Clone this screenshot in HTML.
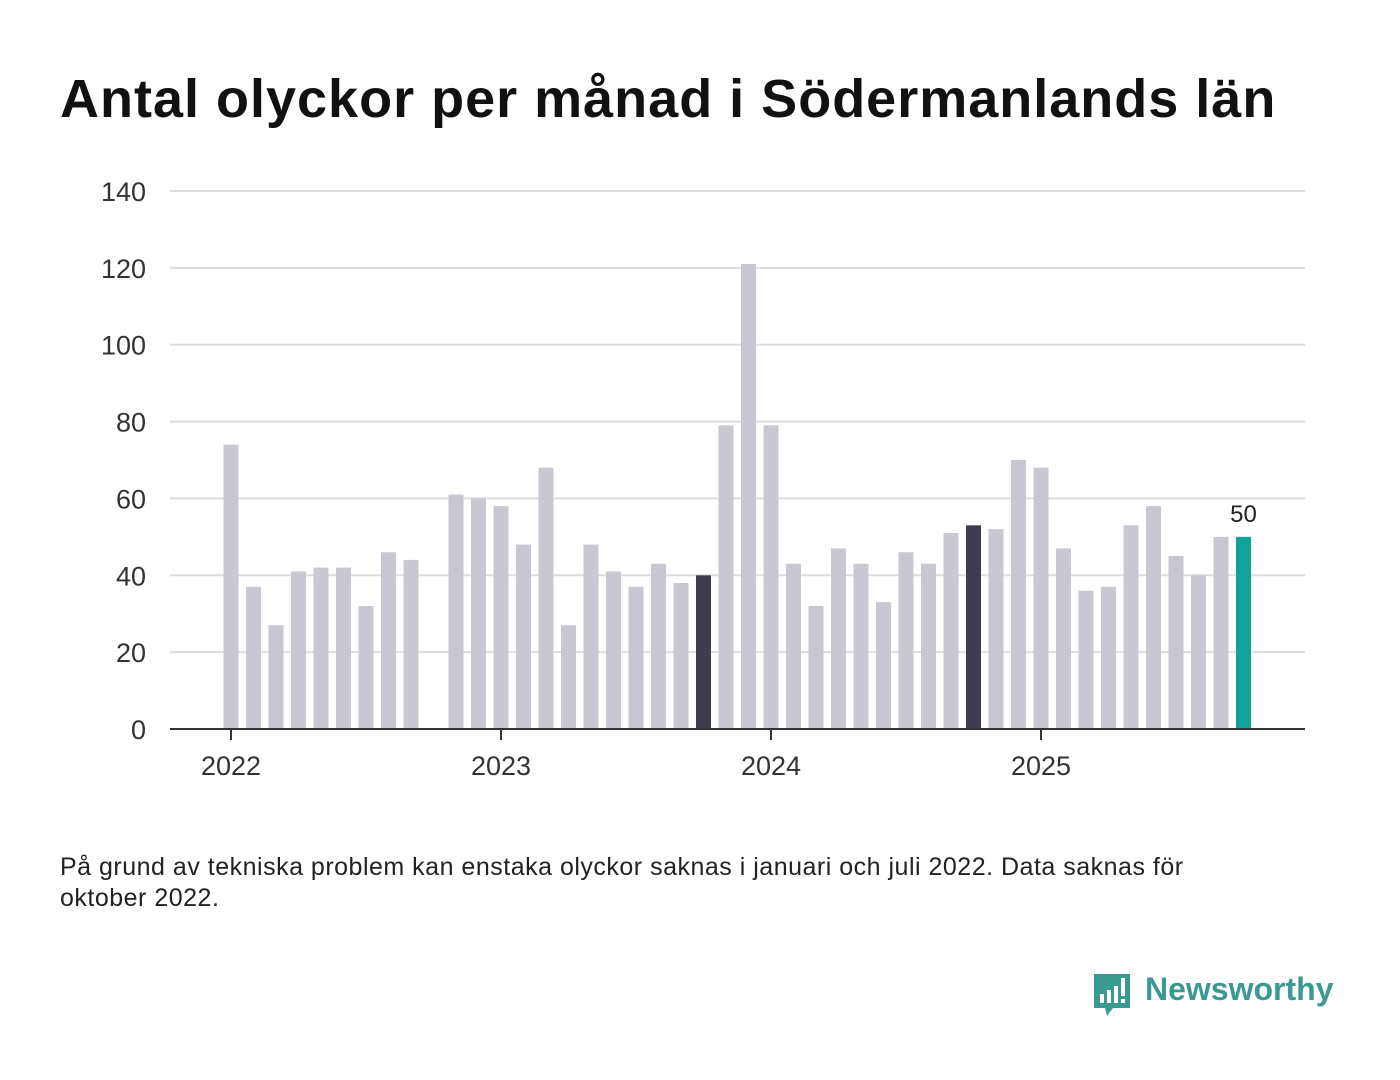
<!DOCTYPE html>
<html><head><meta charset="utf-8"><style>
body{margin:0;width:1400px;height:1080px;background:#fff;font-family:"Liberation Sans","DejaVu Sans",sans-serif;overflow:hidden}
h1{position:absolute;left:60px;top:68px;margin:0;font-size:54px;font-weight:bold;color:#111;letter-spacing:1.0px;white-space:nowrap}
.note{position:absolute;left:60px;top:852px;width:1200px;font-size:25px;line-height:31px;color:#222;letter-spacing:0.5px}
svg{position:absolute;left:0;top:0}
.logo{position:absolute;left:1092px;top:972px}
.logotext{position:absolute;left:1145px;top:971px;font-size:32px;font-weight:bold;color:#3a9a92}
</style></head><body>
<h1>Antal olyckor per månad i Södermanlands län</h1>
<svg id="chart" width="1400" height="820"></svg>
<div class="note">På grund av tekniska problem kan enstaka olyckor saknas i januari och juli 2022. Data saknas för oktober 2022.</div>
<svg class="logo" width="42" height="50">
<path d="M2 2h36v34H21l-6 8-2-8H2z" fill="#3a9a92"/>
<rect x="8" y="22" width="4" height="9" fill="#fff"/><rect x="15" y="18" width="4" height="13" fill="#fff"/><rect x="22" y="14" width="4" height="17" fill="#fff"/><rect x="29" y="6" width="4" height="18" fill="#fff"/><rect x="29" y="27" width="4" height="4" fill="#fff"/>
</svg>
<div class="logotext">Newsworthy</div>
<script>
const months = ["2022-01","2022-02","2022-03","2022-04","2022-05","2022-06","2022-07","2022-08","2022-09","2022-10","2022-11","2022-12","2023-01","2023-02","2023-03","2023-04","2023-05","2023-06","2023-07","2023-08","2023-09","2023-10","2023-11","2023-12","2024-01","2024-02","2024-03","2024-04","2024-05","2024-06","2024-07","2024-08","2024-09","2024-10","2024-11","2024-12","2025-01","2025-02","2025-03","2025-04","2025-05","2025-06","2025-07","2025-08","2025-09","2025-10"];
const values = [74,37,27,41,42,42,32,46,44,null,61,60,58,48,68,27,48,41,37,43,38,40,79,121,79,43,32,47,43,33,46,43,51,53,52,70,68,47,36,37,53,58,45,40,50,50];
const highlighted = ["2023-10","2024-10"];
const current = "2025-10";
const yTicks = [0,20,40,60,80,100,120,140];
const xTickLabels = ["2022","2023","2024","2025"];
const svg = document.getElementById('chart');
const NS = "http://www.w3.org/2000/svg";
const y = v => 729 - v * (538/140);
const x = i => 231 + i * 22.5;
function mk(tag, attrs){const e=document.createElementNS(NS,tag);for(const k in attrs)e.setAttribute(k,attrs[k]);svg.appendChild(e);return e;}
yTicks.forEach(t=>{
  if(t>0){const g=mk('line',{x1:170,x2:1305,y1:y(t),y2:y(t),stroke:'#ddd','stroke-width':2});
  
  }
  const l=mk('text',{x:146,y:y(t)+10,'text-anchor':'end','font-size':27,fill:'#333','font-family':'Liberation Sans, sans-serif'});
  l.textContent=t;
  
  
});
months.forEach((m,i)=>{
  const v=values[i]; if(v==null) return;
  let c='#c8c7d2'; if(highlighted.includes(m)) c='#3f3d4d'; if(m===current) c='#10a399';
  const r=mk('rect',{x:x(i)-7.5,y:y(v),width:15,height:729-y(v),fill:c});
  
  
  if(m===current){const t=mk('text',{x:x(i),y:y(v)-15,'text-anchor':'middle','font-size':24,fill:'#222','font-family':'Liberation Sans, sans-serif'});t.textContent=v;
  
  }
});
const ax=mk('line',{x1:170,x2:1305,y1:729,y2:729,stroke:'#333','stroke-width':2});


xTickLabels.forEach((yr,k)=>{
  const i=k*12;
  const tk=mk('line',{x1:x(i),x2:x(i),y1:729,y2:740,stroke:'#333','stroke-width':2});
  
  
  const t=mk('text',{x:x(i),y:775,'text-anchor':'middle','font-size':27,fill:'#333','font-family':'Liberation Sans, sans-serif'});
  t.textContent=yr;
  
  
});
</script>
</body></html>
